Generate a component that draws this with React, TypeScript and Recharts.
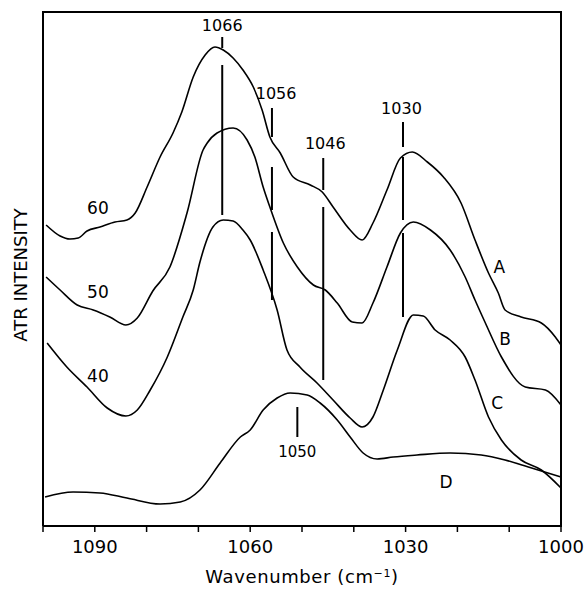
import { LineChart, Line, XAxis, YAxis, ReferenceLine, ReferenceDot, Label } from "recharts"

// wavenumber (cm-1), ATR intensity (arbitrary units)
const spectrumA: [number, number][] = [
  [1099.4, 301], [1096.7, 290], [1094.8, 287], [1093.2, 288], [1091.5, 295], [1089.0, 299],
  [1086.1, 304], [1083.8, 306], [1082.2, 313], [1079.9, 339], [1077.4, 369], [1074.9, 393],
  [1073.2, 414], [1071.0, 449], [1068.7, 471], [1066.8, 479], [1065.2, 476], [1063.3, 468],
  [1061.4, 456], [1059.4, 439], [1057.7, 416], [1056.2, 389], [1054.2, 373], [1051.7, 349],
  [1048.4, 341], [1046.1, 334], [1044.0, 319], [1040.7, 296], [1038.4, 286], [1036.3, 303],
  [1033.6, 336], [1031.0, 368], [1028.7, 374], [1025.8, 364], [1022.7, 349], [1019.3, 323],
  [1016.6, 286], [1014.0, 253], [1012.1, 233], [1010.8, 216], [1007.7, 209], [1003.8, 203],
  [1001.1, 189], [1000.0, 181],
]

const spectrumB: [number, number][] = [
  [1099.4, 249], [1096.7, 236], [1093.4, 221], [1090.3, 216], [1087.1, 209], [1084.0, 201],
  [1081.8, 208], [1078.8, 235], [1075.5, 259], [1072.2, 313], [1069.1, 376], [1068.3, 383],
  [1066.4, 393], [1063.3, 398], [1060.6, 386], [1059.1, 369], [1057.5, 339], [1056.2, 319],
  [1053.6, 283], [1050.9, 259], [1047.8, 241], [1045.5, 236], [1043.2, 223], [1040.3, 204],
  [1038.4, 203], [1036.3, 223], [1033.6, 259], [1031.0, 293], [1028.5, 304], [1025.2, 296],
  [1021.4, 276], [1018.5, 249], [1016.6, 226], [1014.6, 203], [1011.5, 169], [1006.9, 139],
  [1003.0, 136], [1000.0, 121],
]

const spectrumC: [number, number][] = [
  [1099.2, 183], [1095.4, 159], [1091.5, 139], [1087.6, 118], [1084.0, 110], [1081.8, 116],
  [1079.3, 136], [1076.0, 169], [1073.0, 209], [1071.0, 236], [1069.7, 264], [1067.2, 299],
  [1065.2, 306], [1063.3, 305], [1061.4, 296], [1060.0, 286], [1057.5, 256], [1054.8, 216],
  [1052.9, 176], [1050.4, 159], [1047.1, 143], [1044.0, 126], [1040.7, 108], [1038.4, 99],
  [1036.3, 109], [1034.3, 136], [1031.6, 176], [1028.5, 211], [1026.6, 210], [1024.3, 196],
  [1021.4, 186], [1018.5, 169], [1016.6, 146], [1014.0, 109], [1011.5, 86], [1007.7, 66],
  [1003.8, 56], [1000.0, 38],
]

const spectrumD: [number, number][] = [
  [1099.6, 29], [1094.2, 34], [1089.0, 33], [1083.8, 28], [1077.4, 22], [1073.5, 24],
  [1069.7, 36], [1065.8, 63], [1061.9, 89], [1060.0, 96], [1057.5, 116], [1054.8, 128],
  [1052.3, 133], [1049.0, 131], [1046.5, 123], [1043.2, 106], [1040.7, 89], [1038.2, 73],
  [1035.5, 67], [1032.4, 69], [1027.8, 71], [1021.4, 73], [1015.4, 71], [1010.8, 66],
  [1006.3, 59], [1000.0, 49],
]

const xTicks = [1100, 1090, 1080, 1070, 1060, 1050, 1040, 1030, 1020, 1010, 1000]
const labeledTicks = [1090, 1060, 1030, 1000]

// band markers: [wavenumber, from, to]
const bandMarks: [number, number, number][] = [
  [1065.4, 489, 478], [1065.4, 461, 311],
  [1055.8, 418, 389], [1055.8, 359, 316], [1055.8, 294, 226],
  [1045.9, 368, 336], [1045.9, 319, 146],
  [1030.5, 404, 379], [1030.5, 369, 306], [1030.5, 293, 209],
  [1050.9, 119, 89],
]

const bandLabels: [string, number, number][] = [
  ["1066", 1065.4, 501], ["1056", 1055.0, 433], ["1046", 1045.5, 383],
  ["1030", 1030.8, 418], ["1050", 1050.9, 74],
]

const curveLabels: [string, number, number][] = [
  ["60", 1089.4, 318], ["50", 1089.4, 234], ["40", 1089.4, 150],
  ["A", 1011.9, 259], ["B", 1010.8, 187], ["C", 1012.3, 123], ["D", 1022.2, 44],
]

const xDomain = [1000, 1100]
const yDomain = [0, 514]

const toRows = (pts: [number, number][]) => pts.map(([wn, v]) => ({ wn, v }))

const W = 588
const H = 590
const margin = { top: 12, right: 27, bottom: 0, left: 0 }
const yAxisWidth = 43
const xAxisHeight = 64

const font = "DejaVu Sans"
const frame = { stroke: "#000", strokeWidth: 2 }

function textShape(text: string, size: number) {
  return (p: any) => (
    <text x={p.cx} y={p.cy} textAnchor="middle" dominantBaseline="central" fontFamily={font} fontSize={size} fill="#000">
      {text}
    </text>
  )
}

export default function App() {
  return (
    <div style={{ position: "absolute", left: 0, top: 0, width: W, height: H, background: "#fff" }}>
      <LineChart width={W} height={H} margin={margin}>
        <XAxis
          dataKey="wn"
          type="number"
          domain={xDomain}
          reversed
          ticks={xTicks}
          interval={0}
          tickFormatter={(v) => (labeledTicks.includes(v) ? String(v) : "")}
          tick={{ fill: "#000", fontFamily: font, fontSize: 18 }}
          tickLine={{ stroke: "#000", strokeWidth: 1.5 }}
          tickSize={6}
          tickMargin={8}
          axisLine={frame}
          height={xAxisHeight}
        >
          <Label
            content={({ viewBox }: any) => (
              <text
                x={viewBox.x + viewBox.width / 2}
                y={viewBox.y + 57}
                textAnchor="middle"
                fontFamily={font}
                fontSize={18}
                letterSpacing={0.6}
                fill="#000"
              >
                <tspan>Wavenumber (cm</tspan>
                <tspan dy={-6} fontSize={11}>−1</tspan>
                <tspan dy={6}>)</tspan>
              </text>
            )}
          />
        </XAxis>
        <YAxis
          type="number"
          domain={yDomain}
          tick={false}
          tickLine={false}
          axisLine={frame}
          width={yAxisWidth}
        >
          <Label
            content={({ viewBox }: any) => {
              const cx = viewBox.x + 20
              const cy = viewBox.y + viewBox.height / 2 + 6
              return (
                <text
                  x={cx}
                  y={cy}
                  transform={`rotate(-90, ${cx}, ${cy})`}
                  textAnchor="middle"
                  dominantBaseline="central"
                  fontFamily={font}
                  fontSize={18}
                  fill="#000"
                >
                  ATR INTENSITY
                </text>
              )
            }}
          />
        </YAxis>
        {bandMarks.map(([wn, a, b], i) => (
          <ReferenceLine key={i} segment={[{ x: wn, y: a }, { x: wn, y: b }]} stroke="#000" strokeWidth={2} />
        ))}
        <Line data={toRows(spectrumA)} dataKey="v" type="monotone" stroke="#000" strokeWidth={1.6} dot={false} isAnimationActive={false} />
        <Line data={toRows(spectrumB)} dataKey="v" type="monotone" stroke="#000" strokeWidth={1.6} dot={false} isAnimationActive={false} />
        <Line data={toRows(spectrumC)} dataKey="v" type="monotone" stroke="#000" strokeWidth={1.6} dot={false} isAnimationActive={false} />
        <Line data={toRows(spectrumD)} dataKey="v" type="monotone" stroke="#000" strokeWidth={1.6} dot={false} isAnimationActive={false} />
        {bandLabels.map(([t, wn, v]) => (
          <ReferenceDot key={t} x={wn} y={v} r={0} shape={textShape(t, t === "1050" ? 15 : 16)} />
        ))}
        {curveLabels.map(([t, wn, v]) => (
          <ReferenceDot key={t} x={wn} y={v} r={0} shape={textShape(t, 17)} />
        ))}
      </LineChart>
      {/* top and right edges of the plot frame, laid over the plot area */}
      <div
        style={{
          position: "absolute",
          left: margin.left + yAxisWidth - 1,
          top: margin.top - 1,
          width: W - margin.left - margin.right - yAxisWidth + 2,
          height: H - margin.top - margin.bottom - xAxisHeight + 2,
          borderTop: "2px solid #000",
          borderRight: "2px solid #000",
          boxSizing: "border-box",
          pointerEvents: "none",
        }}
      />
    </div>
  )
}
